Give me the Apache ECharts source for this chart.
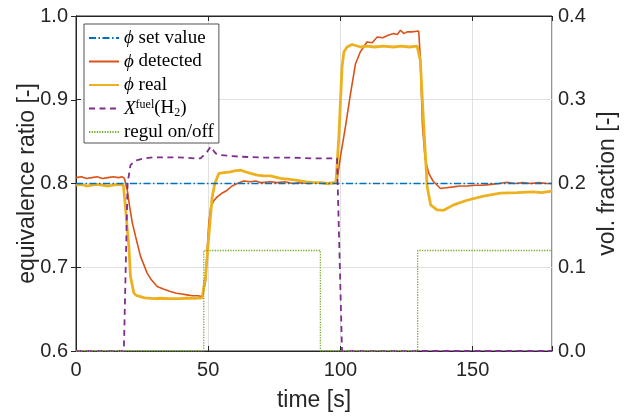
<!DOCTYPE html>
<html>
<head>
<meta charset="utf-8">
<script src="https://cdn.jsdelivr.net/npm/echarts@6/dist/echarts.min.js"></script>
<style>html,body{margin:0;padding:0;background:#fff;}#c{width:644px;height:417px;}</style>
</head>
<body>
<div id="c"></div>
<script>
// ---- data ----
const xTicks = [0, 50, 100, 150];
const leftTicks = ['0.6', '0.7', '0.8', '0.9', '1.0'];
const rightTicks = ['0.0', '0.1', '0.2', '0.3', '0.4'];

const setT = [0, 180];
const setV = [0.8, 0.8];

const detT = [0,2,4,6,8,10,12,14,16,17.5,18.3,19.4,20.3,21.3,22.5,24.4,26.9,28.5,30.7,33,35.7,38,40,42,44,46,47.7,48.4,49,49.6,50.2,50.9,52,53.4,55,57.2,59,61,63.4,66,68,70,73.5,76,79,82,85,88,91,94,97.4,98.6,100,101.9,103.8,105.7,107.5,110,112,113.9,116,118,120.1,121.5,122.7,124,125.2,127,129.6,130.2,131,132,133.4,135,137.8,140,142.8,145,148,151,154,157,160,163,166,169,172,175,178,180];
const detV = [0.807,0.808,0.806,0.807,0.808,0.806,0.807,0.808,0.807,0.808,0.806,0.792,0.772,0.753,0.737,0.713,0.693,0.685,0.677,0.674,0.671,0.669,0.668,0.667,0.666,0.666,0.665,0.666,0.683,0.720,0.752,0.771,0.779,0.784,0.788,0.792,0.797,0.800,0.803,0.802,0.803,0.801,0.802,0.801,0.802,0.800,0.801,0.800,0.801,0.800,0.800,0.801,0.832,0.868,0.907,0.943,0.957,0.969,0.968,0.975,0.974,0.977,0.979,0.978,0.983,0.979,0.981,0.981,0.982,0.950,0.870,0.830,0.812,0.803,0.794,0.795,0.796,0.797,0.797,0.798,0.798,0.799,0.800,0.8015,0.800,0.801,0.800,0.801,0.800,0.800];

const realT = [0,2,4,6,8,10,12,14,16,17.9,18.7,19.4,20,20.6,21.9,23,24.4,26,29.4,32,35,39.5,42,45,47.7,48.3,49,50.2,51.5,52.5,54,56,58.4,60,62.2,64,66,68.5,71,73.5,77.3,81,84.9,87,89.9,93,95,97.5,98.3,99.4,100.6,101.3,102.5,104.4,107.6,110,113,116,120.1,123,126,129,130.2,131.5,132.1,132.8,134.1,136.5,139,142.8,147.9,154.1,160.5,166.8,173,176,180];
const realV = [0.798,0.799,0.797,0.798,0.799,0.798,0.797,0.798,0.799,0.798,0.772,0.745,0.725,0.689,0.669,0.666,0.665,0.6635,0.6626,0.663,0.6625,0.6626,0.663,0.6628,0.6634,0.664,0.689,0.737,0.784,0.800,0.812,0.813,0.814,0.815,0.816,0.814,0.812,0.810,0.809,0.809,0.806,0.805,0.803,0.802,0.801,0.801,0.800,0.801,0.801,0.856,0.939,0.957,0.963,0.966,0.963,0.964,0.963,0.964,0.963,0.964,0.963,0.964,0.947,0.868,0.836,0.796,0.7745,0.7686,0.768,0.7745,0.780,0.785,0.7885,0.789,0.790,0.789,0.791];

const fuelT = [0,18.1,19.5,20.6,21.9,23.2,25.7,29.4,38.3,45.2,47.1,49.6,50.9,52.8,54.6,58,62.2,70,80,90,97.5,98.7,100.6,180];
const fuelV = [0,0,0.200,0.222,0.226,0.228,0.230,0.2313,0.2313,0.230,0.230,0.238,0.244,0.236,0.234,0.233,0.232,0.231,0.231,0.230,0.230,0.230,0,0];

const regT = [0,48.3,48.3,92.4,92.4,129.2,129.2,180];
const regV = [0,0,0.12,0.12,0,0,0.12,0.12];

const names = ['ϕ set value', 'ϕ detected', 'ϕ real', 'X fuel (H2)', 'regul on/off'];
const legendRich = {
  'ϕ set value': '{i|ϕ} set value',
  'ϕ detected': '{i|ϕ} detected',
  'ϕ real': '{i|ϕ} real',
  'X fuel (H2)': '{i|X}{sup|fuel}(H{sub|2})',
  'regul on/off': 'regul on/off'
};

function pairs(t, v) { return t.map((x, i) => [x, v[i]]); }

const axisCol = '#262626';
const sans = 'Liberation Sans, Arial, sans-serif';
const serif = 'Liberation Serif, Times New Roman, serif';

const chart = echarts.init(document.getElementById('c'), null, {renderer: 'canvas'});
chart.setOption({
  animation: false,
  backgroundColor: '#fff',
  grid: {left: 76, right: 92, top: 16, bottom: 65, containLabel: false,
    show: true, borderColor: axisCol, borderWidth: 1, backgroundColor: 'transparent'},
  legend: {
    data: names,
    orient: 'vertical',
    left: 84, top: 24,
    padding: [4, 5, 1, 4],
    itemGap: 3.5,
    itemWidth: 30, itemHeight: 14,
    backgroundColor: '#fff',
    borderColor: axisCol, borderWidth: 0.8,
    itemStyle: {opacity: 0, borderWidth: 0},
    formatter: n => legendRich[n],
    textStyle: {
      fontFamily: serif, fontSize: 19, color: '#000', lineHeight: 20,
      rich: {
        i: {fontFamily: serif, fontStyle: 'italic', fontSize: 19, lineHeight: 20},
        sup: {fontFamily: serif, fontSize: 12, verticalAlign: 'top', lineHeight: 20},
        sub: {fontFamily: serif, fontSize: 12, verticalAlign: 'bottom', lineHeight: 20}
      }
    }
  },
  xAxis: [{
    type: 'value', min: 0, max: 180, interval: 50, position: 'bottom',
    axisLine: {show: true, lineStyle: {color: axisCol, width: 1}},
    axisTick: {show: true, inside: true, length: 5, lineStyle: {color: axisCol}},
    axisLabel: {margin: 9, fontFamily: sans, fontSize: 20, color: axisCol,
      formatter: v => xTicks.includes(v) ? String(v) : ''},
    splitLine: {show: true, lineStyle: {color: '#e1e1e1', width: 1}},
    name: 'time [s]', nameLocation: 'middle', nameGap: 38, nameMoveOverlap: false,
    nameTextStyle: {fontFamily: sans, fontSize: 23, color: axisCol}
  }, {
    type: 'value', min: 0, max: 180, interval: 50, position: 'top',
    axisLine: {show: true, onZero: false, lineStyle: {color: axisCol, width: 1}},
    axisTick: {show: true, inside: true, length: 5, lineStyle: {color: axisCol}},
    axisLabel: {show: false}, splitLine: {show: false}
  }],
  yAxis: [{
    type: 'value', min: 0.6, max: 1.0, interval: 0.1, position: 'left',
    axisLine: {show: true, lineStyle: {color: axisCol, width: 1}},
    axisTick: {show: true, inside: true, length: 5, lineStyle: {color: axisCol}},
    axisLabel: {margin: 8, fontFamily: sans, fontSize: 20, color: axisCol,
      formatter: v => leftTicks[Math.round((v - 0.6) * 10)]},
    splitLine: {show: true, lineStyle: {color: '#e1e1e1', width: 1}},
    name: 'equivalence ratio [-]', nameLocation: 'middle', nameGap: 36.5, nameMoveOverlap: false,
    nameTextStyle: {fontFamily: sans, fontSize: 23, color: axisCol}
  }, {
    type: 'value', min: 0, max: 0.4, interval: 0.1, position: 'right',
    axisLine: {show: true, lineStyle: {color: axisCol, width: 1}},
    axisTick: {show: true, inside: true, length: 5, lineStyle: {color: axisCol}},
    axisLabel: {margin: 6, fontFamily: sans, fontSize: 20, color: axisCol,
      formatter: v => rightTicks[Math.round(v * 10)]},
    splitLine: {show: false},
    name: 'vol. fraction [-]', nameLocation: 'middle', nameGap: 44.5, nameRotate: 90, nameMoveOverlap: false,
    nameTextStyle: {fontFamily: sans, fontSize: 23, color: axisCol}
  }],
  series: [{
    name: names[1], type: 'line', xAxisIndex: 0, yAxisIndex: 0, data: pairs(detT, detV),
    showSymbol: false, symbol: 'none', z: 3,
    lineStyle: {color: '#D95319', width: 1.6}, itemStyle: {color: '#D95319'}
  }, {
    name: names[2], type: 'line', xAxisIndex: 0, yAxisIndex: 0, data: pairs(realT, realV),
    showSymbol: false, symbol: 'none', z: 4,
    lineStyle: {color: '#EDB120', width: 2.8}, itemStyle: {color: '#EDB120'}
  }, {
    name: names[0], type: 'line', xAxisIndex: 0, yAxisIndex: 0, data: pairs(setT, setV),
    showSymbol: false, symbol: 'none', z: 5,
    lineStyle: {color: '#0072BD', width: 1.3, type: [7, 2.5, 1.5, 2.5]}, itemStyle: {color: '#0072BD'}
  }, {
    name: names[3], type: 'line', xAxisIndex: 0, yAxisIndex: 1, data: pairs(fuelT, fuelV),
    showSymbol: false, symbol: 'none', z: 6,
    lineStyle: {color: '#7E2F8E', width: 1.8, type: [6, 4.5]}, itemStyle: {color: '#7E2F8E'}
  }, {
    name: names[4], type: 'line', xAxisIndex: 0, yAxisIndex: 1, data: pairs(regT, regV),
    showSymbol: false, symbol: 'none', z: 6,
    lineStyle: {color: '#77AC30', width: 1.3, type: [1.3, 1.3]}, itemStyle: {color: '#77AC30'}
  }]
});
</script>
</body>
</html>
